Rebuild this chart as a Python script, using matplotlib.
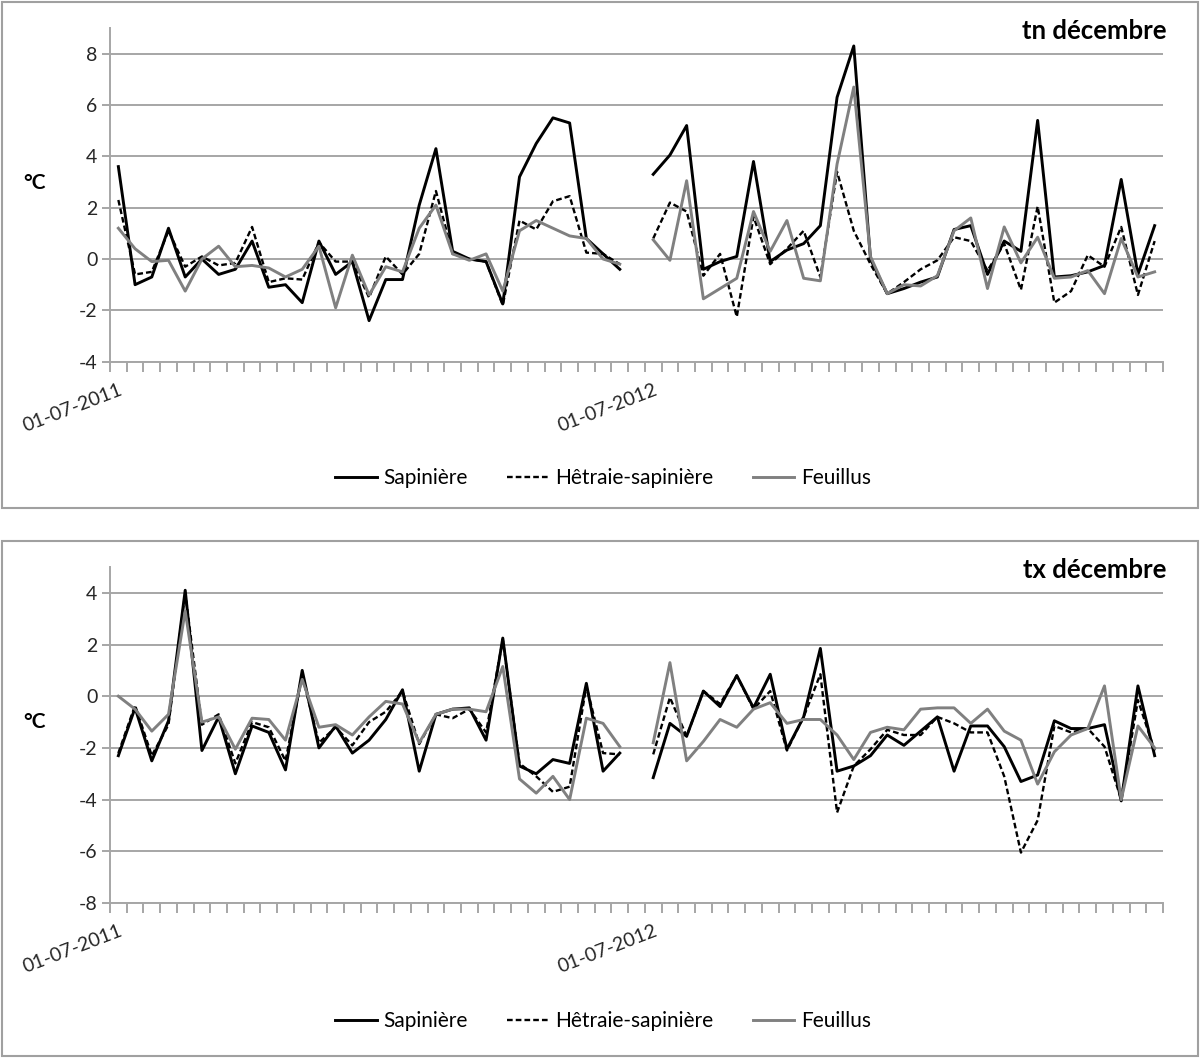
import numpy as np
import matplotlib.pyplot as plt
from matplotlib.patches import Rectangle

plt.rcParams['font.family'] = ['Lato', 'DejaVu Sans']
plt.rcParams['axes.unicode_minus'] = False

series_names = ['Sapinière', 'Hêtraie-sapinière', 'Feuillus']
date_labels = ['01-07-2011', '01-07-2012']
date_label_pos = [0, 32]

# tn décembre : décembre 2011 puis décembre 2012
tn_sap_2011 = [3.6, -1.0, -0.7, 1.2, -0.7, 0.0, -0.6, -0.4, 0.7, -1.1, -1.0, -1.7, 0.7, -0.6, -0.1, -2.4,
               -0.8, -0.8, 2.1, 4.3, 0.3, 0.0, -0.1, -1.75, 3.2, 4.5, 5.5, 5.3, 0.8, 0.2, -0.4]
tn_het_2011 = [2.3, -0.6, -0.5, 1.1, -0.3, 0.1, -0.25, -0.15, 1.25, -0.9, -0.75, -0.8, 0.65, -0.1, -0.1, -1.5,
               0.1, -0.6, 0.2, 2.65, 0.2, 0.0, -0.1, -1.8, 1.5, 1.15, 2.25, 2.45, 0.25, 0.2, -0.2]
tn_feu_2011 = [1.2, 0.4, -0.1, -0.05, -1.25, 0.0, 0.5, -0.3, -0.25, -0.35, -0.7, -0.4, 0.5, -1.9, 0.15, -1.4,
               -0.3, -0.5, 1.2, 2.1, 0.2, -0.05, 0.2, -1.25, 1.1, 1.5, 1.2, 0.9, 0.8, 0.0, -0.2]
tn_sap_2012 = [3.3, 4.05, 5.2, -0.4, -0.1, 0.1, 3.8, -0.1, 0.35, 0.6, 1.3, 6.3, 8.3, 0.0, -1.35, -1.15,
               -0.9, -0.7, 1.15, 1.3, -0.6, 0.7, 0.3, 5.4, -0.7, -0.65, -0.5, -0.25, 3.1, -0.6, 1.3]
tn_het_2012 = [0.8, 2.2, 1.85, -0.65, 0.2, -2.25, 1.65, -0.2, 0.4, 1.1, -0.7, 3.4, 1.1, -0.2, -1.35, -0.9,
               -0.4, -0.05, 0.85, 0.7, -0.45, 0.6, -1.2, 2.05, -1.7, -1.25, 0.15, -0.3, 1.25, -1.4, 0.7]
tn_feu_2012 = [0.75, -0.05, 3.05, -1.55, -1.15, -0.75, 1.85, 0.3, 1.5, -0.75, -0.85, 3.7, 6.7, 0.1, -1.35, -1.0,
               -1.05, -0.65, 1.1, 1.6, -1.15, 1.25, -0.15, 0.85, -0.75, -0.7, -0.45, -1.35, 0.8, -0.7, -0.5]

# tx décembre
tx_sap_2011 = [-2.3, -0.45, -2.5, -0.95, 4.1, -2.1, -0.8, -3.0, -1.15, -1.4, -2.85, 1.0, -2.0, -1.15, -2.2, -1.7,
               -0.9, 0.25, -2.9, -0.7, -0.5, -0.45, -1.7, 2.25, -2.7, -3.0, -2.45, -2.6, 0.5, -2.9, -2.2]
tx_het_2011 = [-2.2, -0.35, -2.3, -1.1, 4.0, -1.1, -0.7, -2.6, -1.0, -1.2, -2.5, 0.8, -1.8, -1.2, -1.9, -1.0,
               -0.6, 0.2, -1.85, -0.7, -0.85, -0.5, -1.4, 2.2, -2.6, -3.1, -3.7, -3.5, 0.4, -2.2, -2.25]
tx_feu_2011 = [0.0, -0.5, -1.35, -0.7, 3.3, -1.0, -0.8, -2.05, -0.85, -0.9, -1.7, 0.65, -1.2, -1.1, -1.5, -0.8,
               -0.2, -0.3, -1.8, -0.7, -0.5, -0.5, -0.6, 1.15, -3.2, -3.75, -3.1, -4.0, -0.85, -1.05, -1.95]
tx_sap_2012 = [-3.15, -1.05, -1.55, 0.2, -0.4, 0.8, -0.45, 0.85, -2.05, -0.8, 1.85, -2.9, -2.7, -2.3, -1.5, -1.9,
               -1.35, -0.8, -2.9, -1.15, -1.15, -1.95, -3.3, -3.05, -0.95, -1.25, -1.25, -1.1, -4.05, 0.4, -2.3]
tx_het_2012 = [-2.25, -0.05, -1.55, 0.2, -0.3, 0.8, -0.5, 0.2, -2.1, -0.8, 0.85, -4.5, -2.7, -2.05, -1.3, -1.5,
               -1.5, -0.8, -1.05, -1.4, -1.4, -3.1, -6.05, -4.8, -1.15, -1.4, -1.25, -1.95, -4.0, -0.15, -2.1]
tx_feu_2012 = [-1.8, 1.3, -2.5, -1.75, -0.9, -1.2, -0.5, -0.25, -1.05, -0.9, -0.9, -1.5, -2.45, -1.4, -1.2, -1.3,
               -0.5, -0.45, -0.45, -1.05, -0.5, -1.35, -1.7, -3.4, -2.15, -1.5, -1.25, 0.4, -4.0, -1.15, -2.0]

W, H = 1200, 1059
GRID = '#a6a6a6'


def join(a, b):
    # une catégorie vide entre les deux mois de décembre
    return np.array(a + [np.nan] + b)


def panel(fig, y_top, y_bot, ylim, yticks, title, series, box, legend_y):
    ax = fig.add_axes([110 / W, 1 - y_bot / H, 1053 / W, (y_bot - y_top) / H])
    x = np.arange(len(series[0]))
    ax.plot(x, series[0], color='black', lw=2.1, label=series_names[0])
    ax.plot(x, series[1], color='black', lw=1.7, ls=(0, (2.4, 1.3)), label=series_names[1])
    ax.plot(x, series[2], color='#808080', lw=2.1, label=series_names[2])

    ax.set_xlim(-0.5, len(x) - 0.5)
    ax.set_ylim(*ylim)
    ax.set_yticks(yticks)
    ax.yaxis.grid(True, color=GRID, lw=1.4)
    ax.set_axisbelow(True)
    for s in ['top', 'right']:
        ax.spines[s].set_visible(False)
    for s in ['left', 'bottom']:
        ax.spines[s].set_color(GRID)
        ax.spines[s].set_linewidth(1.4)

    ax.set_xticks(np.arange(-0.5, len(x), 1))
    ax.set_xticklabels([])
    ax.set_xticks(date_label_pos, minor=True)
    ax.set_xticklabels(date_labels, minor=True, rotation=21, ha='right', rotation_mode='anchor')
    ax.tick_params(axis='x', which='major', length=7, color=GRID, width=1.4)
    ax.tick_params(axis='x', which='minor', length=0, pad=14, labelsize=14, labelcolor='#262626')
    ax.tick_params(axis='y', length=6, color=GRID, width=1.4, labelsize=14, pad=3, labelcolor='#262626')

    fig.text(1166 / W, 1 - (y_top + 3) / H, title, ha='right', va='center',
             fontsize=18.5, fontweight='bold')
    fig.text(35 / W, 1 - (y_top + 155) / H, '°C', ha='center', va='center',
             fontsize=15, fontweight='bold')

    ax.legend(loc='center', bbox_to_anchor=(603 / W, 1 - legend_y / H), bbox_transform=fig.transFigure,
              ncol=3, frameon=False, handlelength=2.0, handletextpad=0.3, columnspacing=1.9, fontsize=15)

    x0, y0, x1, y1 = box
    fig.add_artist(Rectangle((x0 / W, 1 - y1 / H), (x1 - x0) / W, (y1 - y0) / H,
                             transform=fig.transFigure, fill=False, edgecolor='#a0a0a0', lw=1.5))
    return ax


def main():
    fig = plt.figure(figsize=(12, 10.59), dpi=100)

    tn = [join(tn_sap_2011, tn_sap_2012), join(tn_het_2011, tn_het_2012), join(tn_feu_2011, tn_feu_2012)]
    tx = [join(tx_sap_2011, tx_sap_2012), join(tx_het_2011, tx_het_2012), join(tx_feu_2011, tx_feu_2012)]

    panel(fig, 28, 361.7, (-4, 9), np.arange(-4, 9, 2), 'tn décembre', tn, (2, 2, 1198, 508), 478)
    panel(fig, 567, 903, (-8, 5), np.arange(-8, 5, 2), 'tx décembre', tx, (2, 541, 1198, 1056), 1021)

    fig.savefig('out.png', dpi=100)


if __name__ == '__main__':
    main()
